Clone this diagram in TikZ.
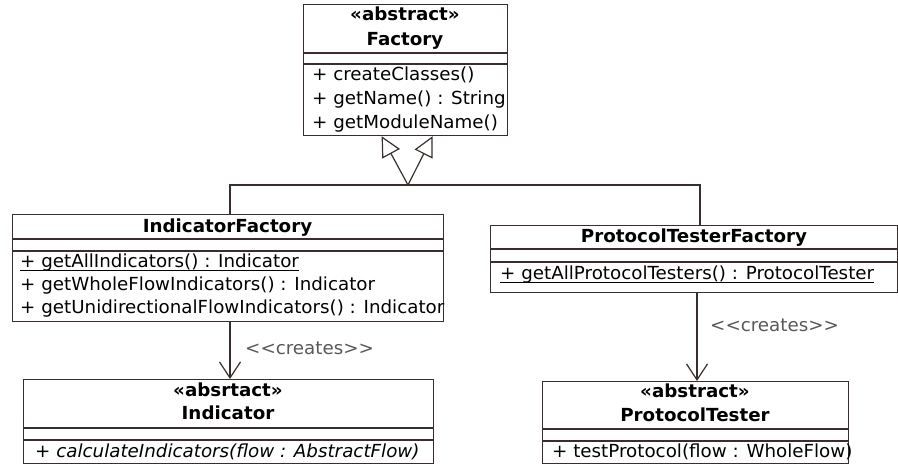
\documentclass[tikz,border=0pt]{standalone}
\usepackage{fontspec}
\setmainfont{DejaVu Sans}[Ligatures=TeXOff, FakeStretch=1.015]
\usetikzlibrary{arrows.meta,calc}
\definecolor{umlline}{RGB}{58,45,45}
\definecolor{umlgray}{RGB}{88,88,88}
\begin{document}
\begin{tikzpicture}[x=1pt,y=-1pt,
  box/.style={draw=umlline, line width=1.2pt, fill=white, rectangle, inner sep=0pt, anchor=north west},
  txt/.style={inner sep=0pt, anchor=base west, font=\fontsize{18}{22}\selectfont},
  ttl/.style={inner sep=0pt, anchor=base, font=\fontsize{18}{22}\selectfont\bfseries},
  lbl/.style={inner sep=0pt, anchor=base west, text=umlgray, font=\fontsize{18}{22}\selectfont},
  gen/.style={draw=umlline, line width=1.2pt, -{Triangle[open, length=20pt, width=20pt]}},
  dep/.style={draw=umlline, line width=1.2pt, -{Straight Barb[length=16pt, width=21pt]}},
  conn/.style={draw=umlline, line width=1.2pt},
  divline/.style={draw=umlline, line width=1.2pt},
  ul/.style={draw=black, line width=0.9pt}]

\useasboundingbox (0,0) rectangle (898,465);

% ---------- Factory ----------
\node[box, minimum width=204pt, minimum height=131pt] (factory) at (303,4) {};
\draw[divline] (303,53) -- (507,53);
\draw[divline] (303,64) -- (507,64);
\node[ttl] (fst) at (405,21) {«abstract»};
\node[ttl] (fname) at (405,46) {Factory};
\node[txt] (f1) at (312,81) {+ createClasses()};
\node[txt] (f2) at (312,105) {+ getName() : String};
\node[txt] (f3) at (312,129) {+ getModuleName()};

% ---------- IndicatorFactory ----------
\node[box, minimum width=431pt, minimum height=107pt] (ifac) at (12,214) {};
\draw[divline] (12,239) -- (443,239);
\draw[divline] (12,251) -- (443,251);
\node[ttl] (ifname) at (227.5,233) {IndicatorFactory};
\node[txt] (if1) at (20,268) {+ getAllIndicators() : Indicator};
\draw[ul] ([yshift=-2.5pt]if1.base west) -- ([yshift=-2.5pt]if1.base east);
\node[txt] (if2) at (20,291) {+ getWholeFlowIndicators() : Indicator};
\node[txt] (if3) at (20,314) {+ getUnidirectionalFlowIndicators() : Indicator};

% ---------- ProtocolTesterFactory ----------
\node[box, minimum width=407pt, minimum height=67pt] (ptf) at (490,225) {};
\draw[divline] (490,249) -- (897,249);
\draw[divline] (490,262) -- (897,262);
\node[ttl] (ptfname) at (694,243) {ProtocolTesterFactory};
\node[txt] (ptf1) at (500,280) {+ getAllProtocolTesters() : ProtocolTester};
\draw[ul] ([yshift=-2.5pt]ptf1.base west) -- ([yshift=-2.5pt]ptf1.base east);

% ---------- Indicator ----------
\node[box, minimum width=410pt, minimum height=84pt] (ind) at (23,379) {};
\draw[divline] (23,428) -- (433,428);
\draw[divline] (23,440) -- (433,440);
\node[ttl] (indst) at (228,396) {«absrtact»};
\node[ttl] (indname) at (228,419) {Indicator};
\node[txt] (ind1) at (35,457) {+ \textit{calculateIndicators(flow : AbstractFlow)}};

% ---------- ProtocolTester ----------
\node[box, minimum width=306pt, minimum height=82pt] (pt) at (542,381) {};
\draw[divline] (542,429) -- (848,429);
\draw[divline] (542,441) -- (848,441);
\node[ttl] (ptst) at (695,398) {«abstract»};
\node[ttl] (ptname) at (695,421) {ProtocolTester};
\node[txt] (pt1) at (552,457) {+ testProtocol(flow : WholeFlow)};

% ---------- generalization ----------
\coordinate (gtipL) at ($(factory.south)+(-24,0)$);
\coordinate (gtipR) at ($(factory.south)+(27,0)$);
\coordinate (junc) at (408,185);
\coordinate (ifTop) at ($(ifac.north west)+(218,0)$);
\coordinate (ptfTop) at ($(ptf.north west)+(210,0)$);
\draw[conn] (ifTop) |- (junc) -| (ptfTop);
\draw[gen] (junc) -- (gtipL);
\draw[gen] (junc) -- (gtipR);

% ---------- dependencies ----------
\coordinate (ifBot) at ($(ifac.south west)+(218,0)$);
\coordinate (indTop) at (ifBot |- ind.north);
\draw[dep] (ifBot) -- (indTop);
\node[lbl] (lab1) at (245,355) {<\kern0pt<creates>\kern0pt>};

\coordinate (ptfBot) at ($(ptf.south west)+(207,0)$);
\coordinate (ptTop) at (ptfBot |- pt.north);
\draw[dep] (ptfBot) -- (ptTop);
\node[lbl] (lab2) at (710,332) {<\kern0pt<creates>\kern0pt>};
\end{tikzpicture}
\end{document}
